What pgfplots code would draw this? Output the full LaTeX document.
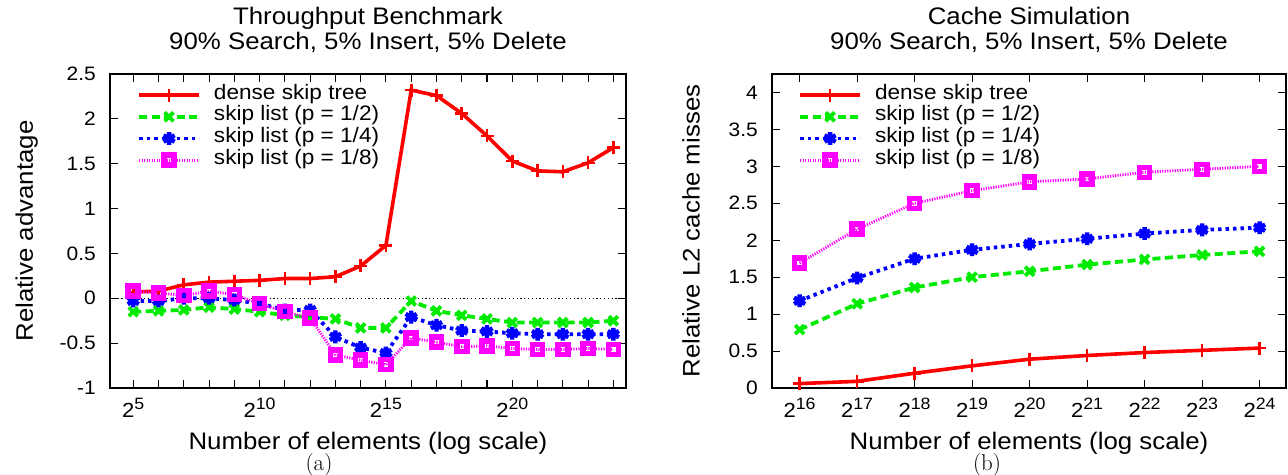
\documentclass[border=0pt]{standalone}
\usepackage{pgfplots}
\pgfplotsset{compat=1.18}
\usepackage{fontspec}
\newfontfamily\hel{Liberation Sans}[FakeStretch=1.08]
\newcommand\tk{\hel\fontsize{19.5}{19.5}\selectfont}
\newcommand\lgf{\hel\fontsize{21}{21}\selectfont}
\newcommand\ti{\hel\fontsize{24}{26}\selectfont}
\newcommand\pw[1]{{\fontsize{20.5}{20.5}\selectfont 2\raisebox{0.42em}{\fontsize{16.5}{16.5}\selectfont #1}}}
\definecolor{gred}{RGB}{255,0,0}
\definecolor{ggreen}{RGB}{0,235,0}
\definecolor{gblue}{RGB}{0,0,255}
\definecolor{gmag}{RGB}{255,0,255}

\pgfplotsset{
  gp/.style={
    scale only axis, anchor=south west, height=314bp,
    axis line style={line width=1.6bp},
    tick style={line width=1.1bp, black},
    major tick length=8bp, minor tick length=8bp,
    tick align=inside,
    xtick pos=both, ytick pos=both,
    every tick label/.append style={font=\tk},
    xticklabel style={anchor=base, yshift=-30bp, inner sep=0pt},
    yticklabel style={anchor=east, xshift=-14bp, inner sep=0pt},
    xlabel style={font=\ti, at={(axis description cs:0.5,0)}, anchor=base, yshift=-61bp, inner sep=0pt},
    title style={font=\ti, at={(axis description cs:0.5,1)}, anchor=north, yshift=61.5bp, inner sep=0pt, align=center},
    legend style={draw=none, fill=none, font=\lgf, inner sep=0pt, row sep=0pt,
      nodes={inner sep=0pt, text height=15bp, text depth=6.7bp},
      /tikz/every odd column/.append style={column sep=13bp}},
    legend cell align=left,
    legend image code/.code={\draw[mark repeat=2, mark phase=2, #1] plot coordinates {(0bp,0bp) (30bp,0bp) (60bp,0bp)};},
  },
  sred/.style={gred, line width=3.6bp, solid, mark=+, mark size=6.5bp, mark options={solid, line width=2.6bp}},
  sgreen/.style={ggreen, line width=3.8bp, dash pattern=on 8bp off 4.5bp, mark=x, mark size=6.3bp, mark options={solid, line width=3.8bp}},
  sblue/.style={gblue, line width=3.8bp, dash pattern=on 3.5bp off 4bp, mark=asterisk, mark size=6.4bp, mark options={solid, line width=4.4bp}},
  smag/.style={gmag, line width=2.8bp, dash pattern=on 1.2bp off 1.3bp, mark=square, mark size=5bp, mark options={solid, line width=5.5bp}},
}

\begin{document}
\begin{tikzpicture}
\useasboundingbox (0,0) rectangle (1288bp,475bp);

\begin{axis}[gp, at={(110bp,87bp)}, width=516bp,
  xmin=4.08, xmax=24.5, ymin=-1, ymax=2.5,
  xtick={5,...,24},
  xticklabels={\pw{5},,,,,\pw{10},,,,,\pw{15},,,,,\pw{20},,,,},
  ytick={-1,-0.5,0,0.5,1,1.5,2,2.5},
  yticklabels={-1,-0.5,0,0.5,1,1.5,2,2.5},
  xlabel={Number of elements (log scale)},
  ylabel={Relative advantage},
  ylabel style={font=\ti, at={(axis description cs:-0.1395,0.5)}, anchor=south, inner sep=0pt},
  title={Throughput Benchmark\\90\% Search, 5\% Insert, 5\% Delete},
  legend style={at={(axis description cs:0.0523,0.968)}, anchor=north west},
]
\addplot[black, line width=0.8bp, dash pattern=on 1.2bp off 2.6bp, forget plot] coordinates {(4.08,0) (24.5,0)};
\addplot[sred] coordinates {
(5,0.07) (6,0.08) (7,0.15) (8,0.18) (9,0.19) (10,0.20) (11,0.22) (12,0.22) (13,0.24) (14,0.36)
(15,0.59) (16,2.32) (17,2.26) (18,2.06) (19,1.81) (20,1.53) (21,1.42) (22,1.41) (23,1.51) (24,1.68)};
\addlegendentry{dense skip tree}
\addplot[sgreen] coordinates {
(5,-0.15) (6,-0.14) (7,-0.13) (8,-0.10) (9,-0.12) (10,-0.15) (11,-0.19) (12,-0.21) (13,-0.23) (14,-0.33)
(15,-0.33) (16,-0.03) (17,-0.14) (18,-0.19) (19,-0.23) (20,-0.27) (21,-0.27) (22,-0.27) (23,-0.27) (24,-0.25)};
\addlegendentry{skip list (p = 1/2)}
\addplot[sblue] coordinates {
(5,-0.03) (6,-0.03) (7,0.00) (8,0.00) (9,-0.02) (10,-0.06) (11,-0.13) (12,-0.13) (13,-0.43) (14,-0.55)
(15,-0.61) (16,-0.21) (17,-0.30) (18,-0.36) (19,-0.37) (20,-0.39) (21,-0.40) (22,-0.40) (23,-0.40) (24,-0.40)};
\addlegendentry{skip list (p = 1/4)}
\addplot[smag] coordinates {
(5,0.08) (6,0.06) (7,0.03) (8,0.08) (9,0.04) (10,-0.06) (11,-0.15) (12,-0.22) (13,-0.63) (14,-0.69)
(15,-0.74) (16,-0.44) (17,-0.49) (18,-0.54) (19,-0.53) (20,-0.56) (21,-0.57) (22,-0.57) (23,-0.56) (24,-0.57)};
\addlegendentry{skip list (p = 1/8)}
\end{axis}

\begin{axis}[gp, at={(772bp,87bp)}, width=514bp,
  xmin=15.52, xmax=24.46, ymin=0, ymax=4.25,
  xtick={16,...,24},
  xticklabels={\pw{16},\pw{17},\pw{18},\pw{19},\pw{20},\pw{21},\pw{22},\pw{23},\pw{24}},
  ytick={0,0.5,1,1.5,2,2.5,3,3.5,4},
  yticklabels={0,0.5,1,1.5,2,2.5,3,3.5,4},
  xlabel={Number of elements (log scale)},
  ylabel={Relative L2 cache misses},
  ylabel style={font=\ti, at={(axis description cs:-0.1401,0.5)}, anchor=south, inner sep=0pt},
  title={Cache Simulation\\90\% Search, 5\% Insert, 5\% Delete},
  legend style={at={(axis description cs:0.0506,0.968)}, anchor=north west},
]
\addplot[sred] coordinates {
(16,0.06) (17,0.09) (18,0.20) (19,0.30) (20,0.39) (21,0.44) (22,0.48) (23,0.51) (24,0.54)};
\addlegendentry{dense skip tree}
\addplot[sgreen] coordinates {
(16,0.79) (17,1.14) (18,1.36) (19,1.50) (20,1.58) (21,1.67) (22,1.74) (23,1.80) (24,1.85)};
\addlegendentry{skip list (p = 1/2)}
\addplot[sblue] coordinates {
(16,1.18) (17,1.49) (18,1.75) (19,1.87) (20,1.95) (21,2.02) (22,2.09) (23,2.14) (24,2.17)};
\addlegendentry{skip list (p = 1/4)}
\addplot[smag] coordinates {
(16,1.69) (17,2.15) (18,2.50) (19,2.67) (20,2.79) (21,2.83) (22,2.92) (23,2.96) (24,3.00)};
\addlegendentry{skip list (p = 1/8)}
\end{axis}

\node[anchor=base, inner sep=0pt, font=\fontsize{23}{23}\selectfont] at (319bp,5bp) {(a)};
\node[anchor=base, inner sep=0pt, font=\fontsize{23}{23}\selectfont] at (987bp,5bp) {(b)};
\end{tikzpicture}
\end{document}
